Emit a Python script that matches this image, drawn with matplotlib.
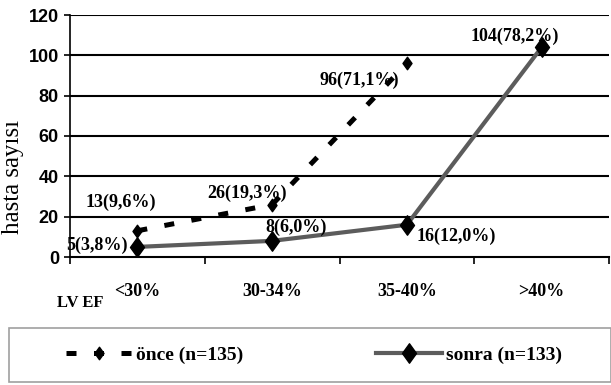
import numpy as np
import matplotlib
matplotlib.use("Agg")
import matplotlib.pyplot as plt
from matplotlib.path import Path
from matplotlib.patches import Rectangle
from matplotlib import font_manager

categories = ["<30%", "30-34%", "35-40%", ">40%"]
once_values = [13, 26, 96, np.nan]
once_pct = ["9,6", "19,3", "71,1", None]
sonra_values = [5, 8, 16, 104]
sonra_pct = ["3,8", "6,0", "12,0", "78,2"]
y_ticks = [0, 20, 40, 60, 80, 100, 120]
once_name = "önce (n=135)"
sonra_name = "sonra (n=133)"

names = {f.name for f in font_manager.fontManager.ttflist}
narrow = "Liberation Sans Narrow" if "Liberation Sans Narrow" in names else "Liberation Sans"
serif = "Liberation Serif"

W, H = 611, 385
fig = plt.figure(figsize=(W / 100, H / 100), dpi=100)
ax = fig.add_axes([70 / W, (H - 257) / H, (609 - 70) / W, (257 - 15) / H])

x = np.arange(len(categories))
diamond = Path([(0, 1), (0.72, 0), (0, -1), (-0.72, 0), (0, 1)],
               [Path.MOVETO, Path.LINETO, Path.LINETO, Path.LINETO, Path.CLOSEPOLY])

ax.set_xlim(-0.5, len(categories) - 0.5)
ax.set_ylim(0, 120)
ax.set_yticks(y_ticks)
for t in y_ticks[1:]:
    ax.axhline(t, color="black", lw=1.5, zorder=1)

l1, = ax.plot(x, once_values, color="black", lw=3.6, linestyle=(0, (2, 3.5)),
              marker=diamond, markersize=9, zorder=3, dash_capstyle="butt")
l2, = ax.plot(x, sonra_values, color="#5c5c5c", lw=3, marker=diamond,
              markersize=14, markerfacecolor="black", markeredgecolor="black", zorder=4)

for sp in ["top", "right"]:
    ax.spines[sp].set_visible(False)
ax.spines["left"].set_linewidth(1.2)
ax.spines["bottom"].set_linewidth(1.5)

ax.set_xticks(np.arange(-0.5, len(categories), 1.0))
ax.set_xticklabels([])
ax.tick_params(axis="x", which="major", direction="out", length=5, width=1.2)
ax.set_xticks(x, minor=True)
ax.set_xticklabels(categories, minor=True, fontfamily=serif, fontweight="bold", fontsize=13)
ax.tick_params(axis="x", which="minor", length=0, pad=19)
ax.tick_params(axis="y", direction="out", length=4, width=1.2, pad=4)
for lab in ax.get_yticklabels():
    lab.set_fontfamily(narrow)
    lab.set_fontweight("bold")
    lab.set_fontsize(13)

fig.text(13 / W, (H - 177) / H, "hasta sayısı", rotation=90, fontfamily=serif,
         fontsize=18, ha="center", va="center")
fig.text(80 / W, (H - 303) / H, "LV EF", fontfamily=serif, fontweight="bold",
         fontsize=12, ha="center", va="center")

px = 0.72
once_off = [(-17, 28, "center"), (-25, 11, "center"), (-48, -17, "center")]
sonra_off = [(-10, 2, "right"), (24, 14, "center"), (49, -12, "center"), (-27, 11, "center")]
for i, (v, p) in enumerate(zip(once_values, once_pct)):
    if p is None:
        continue
    dx, dy, ha = once_off[i]
    ax.annotate(f"{v}({p}%)", (x[i], v), xytext=(dx * px, dy * px), textcoords="offset points",
                ha=ha, va="center", fontfamily=serif, fontweight="bold", fontsize=13, zorder=5)
for i, (v, p) in enumerate(zip(sonra_values, sonra_pct)):
    dx, dy, ha = sonra_off[i]
    ax.annotate(f"{v}({p}%)", (x[i], v), xytext=(dx * px, dy * px), textcoords="offset points",
                ha=ha, va="center", fontfamily=serif, fontweight="bold", fontsize=13, zorder=5)

fig.patches.append(Rectangle((9 / W, 3 / H), (W - 9) / W, 54 / H, transform=fig.transFigure,
                             fill=False, edgecolor="#a0a0a0", lw=1.2))
fig.legend([l1, l2], [once_name, sonra_name], loc="center", bbox_to_anchor=(314 / W, 30 / H),
           ncol=2, frameon=False, handlelength=3.4, handletextpad=0.2, columnspacing=6.8,
           numpoints=1, prop={"family": serif, "weight": "bold", "size": 14})

fig.savefig("out.png", dpi=100)
